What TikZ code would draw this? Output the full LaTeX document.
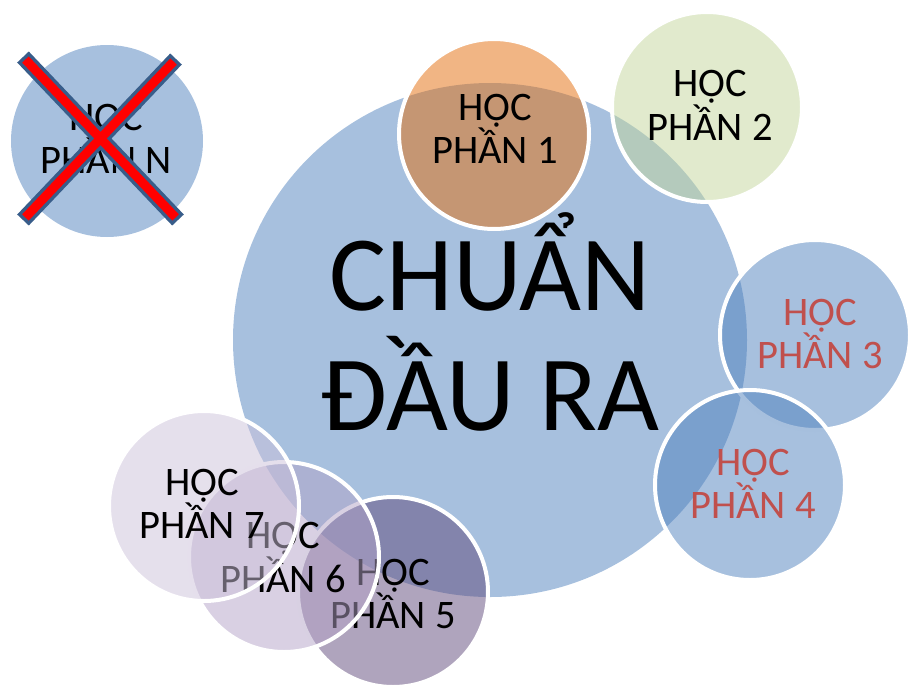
\documentclass[tikz,border=0pt]{standalone}
\usepackage{fontspec}
\setmainfont{Carlito}
\usetikzlibrary{calc}
\definecolor{accblue}{HTML}{4F81BD}
\definecolor{accorange}{HTML}{E46C0A}
\definecolor{accgreen}{HTML}{C3D69B}
\definecolor{purpleA}{HTML}{604A7B}
\definecolor{purpleB}{HTML}{B3A2C7}
\definecolor{purpleC}{HTML}{CCC1DA}
\definecolor{txtred}{HTML}{C0504D}
\definecolor{xblue}{HTML}{385D8A}
\definecolor{xred}{HTML}{FF0000}
\tikzset{
  bubble/.style={fill=#1, fill opacity=0.5, draw=white, draw opacity=1, line width=4pt},
  smalltxt/.style={anchor=base, inner sep=0pt, font=\fontsize{40.5}{43}\selectfont},
  bigtxt/.style={anchor=base, inner sep=0pt, font=\fontsize{107}{120}\selectfont},
}
\newcommand\bubtext[6]{%
  \node[smalltxt, text=#5] (#1a) at (#2,#3) {HỌC};
  \node[smalltxt, text=#5] (#1b) at (#2,#4) {PHẦN #6};}
\begin{document}
\begin{tikzpicture}[x=1pt,y=-1pt]
\useasboundingbox (0,0) rectangle (908,686);
% main
\fill[accblue, fill opacity=0.5] (490,340) circle (257);
\node[bigtxt] (m1) at (490,310) {CHUẨN};
\node[bigtxt] (m2) at (490,430) {ĐẦU RA};
% 1
\path[bubble=accorange] (494,134) circle (95);
\bubtext{h1}{495}{120}{163}{black}{1}
% 2
\path[bubble=accgreen] (707,107) circle (95);
\bubtext{h2}{710}{96}{140}{black}{2}
% 3
\path[bubble=accblue] (815,335) circle (95);
\bubtext{h3}{820}{325}{368}{txtred}{3}
% 4
\path[bubble=accblue] (750,485) circle (95);
\bubtext{h4}{753}{475}{518}{txtred}{4}
% 5
\path[bubble=purpleA] (393,592) circle (95);
\bubtext{h5}{393}{585}{628}{black}{5}
% 6
\path[bubble=purpleB] (284,557) circle (95);
\bubtext{h6}{283}{548}{592}{black}{6}
% 7
\path[bubble=purpleC] (204,506) circle (95);
\bubtext{h7}{202}{495}{538}{black}{7}
% N
\fill[accblue, fill opacity=0.5] (107,141) circle (96);
\bubtext{hN}{106}{130}{173}{black}{N}
% cross
\coordinate (xa1) at (23,57);
\coordinate (xa2) at (178,220);
\coordinate (xb1) at (176,59);
\coordinate (xb2) at (23,220);
\draw[xblue, line width=16pt] (xa1) -- (xa2) (xb1) -- (xb2);
\draw[xred, line width=9pt] ($(xa1)!3.5pt!(xa2)$) -- ($(xa2)!3.5pt!(xa1)$)
  ($(xb1)!3.5pt!(xb2)$) -- ($(xb2)!3.5pt!(xb1)$);
\end{tikzpicture}
\end{document}
